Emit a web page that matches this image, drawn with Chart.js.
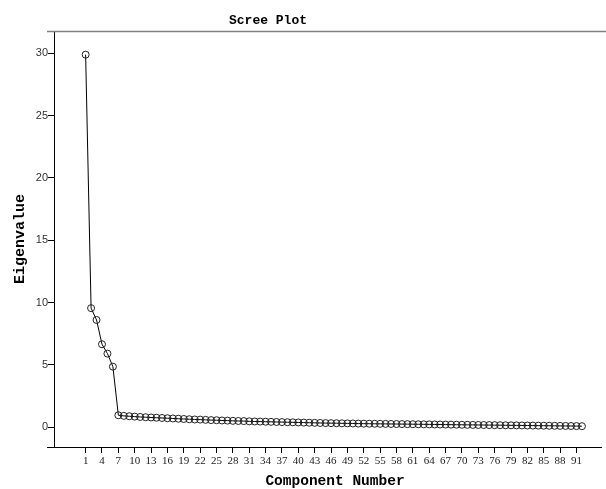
<!DOCTYPE html>
<html>
<head>
<meta charset="utf-8">
<script src="https://cdn.jsdelivr.net/npm/chart.js@4.4.0/dist/chart.umd.min.js"></script>
<style>
  body { margin: 0; background: #fff; }
  #wrap { width: 606px; height: 489px; position: relative; }
</style>
</head>
<body>
<div id="wrap"><canvas id="grafico"></canvas></div>
<script>
var componentes = [];
for (var i = 1; i <= 92; i++) componentes.push(i);

var eigenvalues = [
  29.9, 9.55, 8.6, 6.65, 5.9, 4.85, 0.95, 0.9, 0.87, 0.84,
  0.81, 0.79, 0.77, 0.75, 0.73, 0.71, 0.69, 0.67, 0.65, 0.63,
  0.61, 0.6, 0.58, 0.56, 0.55, 0.53, 0.52, 0.5, 0.49, 0.48,
  0.46, 0.45, 0.44, 0.43, 0.42, 0.41, 0.4, 0.39, 0.38, 0.37,
  0.36, 0.35, 0.34, 0.33, 0.32, 0.315, 0.31, 0.3, 0.295, 0.29,
  0.28, 0.275, 0.27, 0.265, 0.26, 0.255, 0.25, 0.245, 0.24, 0.235,
  0.23, 0.225, 0.22, 0.215, 0.21, 0.205, 0.2, 0.195, 0.19, 0.185,
  0.18, 0.175, 0.17, 0.165, 0.16, 0.155, 0.15, 0.145, 0.14, 0.135,
  0.13, 0.125, 0.12, 0.115, 0.11, 0.105, 0.1, 0.095, 0.09, 0.085,
  0.08, 0.07
];

var xTicks = [1, 4, 7, 10, 13, 16, 19, 22, 25, 28, 31, 34, 37, 40, 43, 46,
  49, 52, 55, 58, 61, 64, 67, 70, 73, 76, 79, 82, 85, 88, 91];
var yTicks = [0, 5, 10, 15, 20, 25, 30];

var puntos = componentes.map(function (c, idx) {
  return { x: c, y: eigenvalues[idx] };
});

// titles and the grey frame line are drawn by hand
var textos = {
  id: 'textos',
  afterDraw: function (chart) {
    var ctx = chart.ctx;
    var area = chart.chartArea;
    ctx.save();
    ctx.strokeStyle = '#808080';
    ctx.lineWidth = 1.5;
    ctx.beginPath();
    ctx.moveTo(47, area.top + 0.5);
    ctx.lineTo(606, area.top + 0.5);
    ctx.stroke();

    ctx.strokeStyle = '#000';
    ctx.lineWidth = 1;
    ctx.beginPath();
    ctx.moveTo(47, area.bottom + 0.5);
    ctx.lineTo(area.left, area.bottom + 0.5);
    ctx.stroke();

    ctx.fillStyle = '#000';
    ctx.textAlign = 'center';
    ctx.textBaseline = 'middle';
    ctx.font = 'bold 13px "Liberation Mono"';
    ctx.fillText('Scree Plot', 268, 21);

    ctx.font = 'bold 14.5px "Liberation Mono"';
    ctx.fillText('Component Number', 335, 481);

    ctx.translate(20, 239);
    ctx.rotate(-Math.PI / 2);
    ctx.font = 'bold 15px "Liberation Mono"';
    ctx.fillText('Eigenvalue', 0, 0);
    ctx.restore();
  }
};

var ctx = document.getElementById('grafico').getContext('2d');
var chart = new Chart(ctx, {
  type: 'line',
  data: {
    datasets: [{
      data: puntos,
      borderColor: '#000',
      borderWidth: 1,
      pointRadius: 3.5,
      pointBorderWidth: 1,
      pointBorderColor: '#222',
      pointBackgroundColor: 'rgba(0,0,0,0)',
      fill: false,
      tension: 0,
      clip: false
    }]
  },
  options: {
    responsive: true,
    maintainAspectRatio: false,
    animation: false,
    layout: { padding: { top: 31, left: 0, right: 0, bottom: 0 } },
    plugins: {
      legend: { display: false },
      title: { display: false },
      tooltip: { enabled: false }
    },
    scales: {
      x: {
        type: 'linear',
        min: -4.8,
        max: 95.5,
        afterBuildTicks: function (scale) {
          scale.ticks = xTicks.map(function (v) { return { value: v }; });
        },
        afterFit: function (scale) { scale.height = 42; },
        grid: { drawOnChartArea: false, drawTicks: true, tickLength: 6, tickColor: '#000' },
        border: { display: true, color: '#000', width: 1 },
        ticks: {
          autoSkip: false,
          maxRotation: 0,
          padding: 2,
          color: '#222',
          font: { family: '"Liberation Serif"', size: 11 }
        }
      },
      y: {
        min: -1.6,
        max: 31.8,
        afterBuildTicks: function (scale) {
          scale.ticks = yTicks.map(function (v) { return { value: v }; });
        },
        afterFit: function (scale) { scale.width = 54; },
        grid: { drawOnChartArea: false, drawTicks: true, tickLength: 6, tickColor: '#000' },
        border: { display: true, color: '#000', width: 1 },
        ticks: {
          padding: 0,
          color: '#333',
          font: { family: '"Liberation Sans"', size: 11 }
        }
      }
    }
  },
  plugins: [textos]
});
</script>
</body>
</html>
